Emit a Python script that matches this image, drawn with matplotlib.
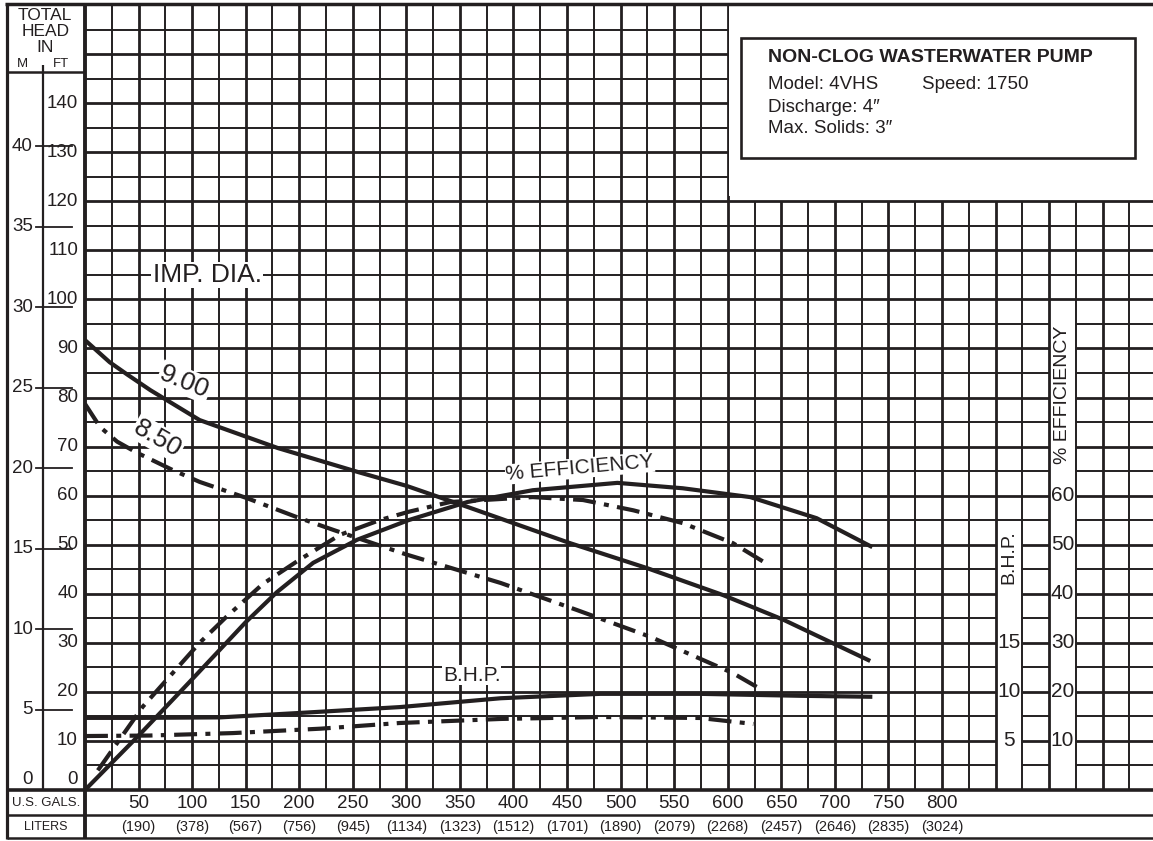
import matplotlib
matplotlib.use("Agg")
import matplotlib.pyplot as plt
import matplotlib.transforms as mtransforms
from matplotlib.lines import Line2D
from matplotlib.patches import Rectangle

W, H = 1153, 841
INK = '#231f20'

# head curves (ft) against flow (US gal/min)
gal_900 = [0, 23, 40, 61, 107, 180, 255, 300, 357, 453, 525, 596, 652, 733]
head_900 = [91.7, 87.2, 84.6, 81.5, 75.4, 69.7, 64.8, 62.0, 57.7, 50.3, 45.2, 39.7, 34.7, 26.3]
gal_850 = [0, 14, 30, 48, 82, 107, 151, 198, 232, 300, 388, 459, 528, 605, 632]
head_850 = [78.7, 74.0, 71.0, 68.8, 65.2, 62.8, 59.5, 55.6, 53.0, 48.0, 42.2, 36.7, 31.2, 23.8, 20.4]

# efficiency (%)
eff_gal_900 = [0, 51, 101, 150, 179, 213, 254, 302, 357, 418, 497, 558, 621, 683, 735]
eff_900 = [0, 11.3, 22.8, 34.2, 40.3, 46.3, 51.0, 55.0, 58.7, 61.1, 62.6, 61.5, 59.7, 55.4, 49.5]
eff_gal_850 = [12, 54, 107, 132, 166, 200, 238, 275, 302, 341, 418, 465, 512, 558, 605, 638]
eff_850 = [4, 17, 30, 35.3, 42, 46.9, 52, 55, 56.7, 58.7, 59.7, 59.1, 57, 54.4, 50.3, 45.9]

# brake horsepower
bhp_gal_900 = [0, 50, 126, 200, 294, 388, 481, 574, 668, 735]
bhp_900 = [7.35, 7.35, 7.4, 7.85, 8.45, 9.35, 9.8, 9.8, 9.6, 9.5]
bhp_gal_850 = [0, 60, 138, 220, 294, 388, 481, 574, 624]
bhp_850 = [5.5, 5.55, 5.8, 6.25, 6.83, 7.24, 7.44, 7.34, 6.73]

gal_ticks = [50, 100, 150, 200, 250, 300, 350, 400, 450, 500, 550, 600, 650, 700, 750, 800]
liter_labels = ['(190)', '(378)', '(567)', '(756)', '(945)', '(1134)', '(1323)', '(1512)',
                '(1701)', '(1890)', '(2079)', '(2268)', '(2457)', '(2646)', '(2835)', '(3024)']
ft_ticks = [0, 10, 20, 30, 40, 50, 60, 70, 80, 90, 100, 110, 120, 130, 140]
m_ticks = [0, 5, 10, 15, 20, 25, 30, 35, 40]
bhp_ticks = [5, 10, 15]
eff_ticks = [10, 20, 30, 40, 50, 60]

plt.rcParams['font.family'] = ['Liberation Sans', 'DejaVu Sans']

fig = plt.figure(figsize=(W / 100, H / 100), dpi=100)
ax = fig.add_axes([85 / W, (H - 790) / H, (W - 85) / W, (790 - 5) / H])
ax.set_xlim(0, 997)
ax.set_ylim(0, 160)
ax.axis('off')


def px(x):
    return x / W


def py(y):
    return 1 - y / H


def fline(x0, y0, x1, y1, lw):
    fig.add_artist(Line2D([px(x0), px(x1)], [py(y0), py(y1)], transform=fig.transFigure,
                          color=INK, lw=lw, solid_capstyle='butt'))


# ---- grid ----
for g in range(25, 1000, 25):
    top = 120 if g > 600 else 160
    ax.plot([g, g], [0, top], color=INK, lw=2.0 if g % 50 == 0 else 1.4,
            solid_capstyle='butt', zorder=1)


def cut(spans, a, b):
    out = []
    for s, e in spans:
        if e <= a or s >= b:
            out.append((s, e))
        else:
            if s < a:
                out.append((s, a))
            if e > b:
                out.append((b, e))
    return out


for f in range(5, 160, 5):
    spans = [(0, 600 if f > 120 else 997)]
    if f < 53:
        spans = cut(spans, 850, 875)   # B.H.P. scale strip
    if f < 96:
        spans = cut(spans, 900, 925)   # efficiency scale strip
    for s, e in spans:
        ax.plot([s, e], [f, f], color=INK, lw=2.0 if f % 10 == 0 else 1.4,
                solid_capstyle='butt', zorder=1)

# ---- frame ----
fline(7, 3, 7, 839, 2.3)
fline(5, 4, 1153, 4, 2.5)
fline(7, 72, 85, 72, 1.8)
fline(43, 65, 43, 790, 1.6)
fline(85, 4, 85, 839, 2.8)
fline(7, 790, 1153, 790, 2.6)
fline(7, 815, 1153, 815, 1.8)
fline(7, 838, 1153, 838, 1.8)

# header
for txt, x, y, size in [('TOTAL', 45, 16, 12.5), ('HEAD', 46, 32, 12.5), ('IN', 45, 47, 12.5),
                        ('M', 22, 64, 9.5), ('FT', 61, 64, 9.5)]:
    fig.text(px(x), py(y), txt, ha='center', va='center', fontsize=size, color=INK)

# left axes (M and FT)
fx_dy = mtransforms.blended_transform_factory(fig.transFigure, ax.transData)
for m in m_ticks:
    y = m * 3.28084
    if m == 0:
        ax.text(px(33), 2.1, '0', transform=fx_dy, ha='right', va='center',
                fontsize=13.5, color=INK)
        continue
    ax.plot([px(36), px(72)], [y, y], transform=fx_dy, color=INK, lw=1.3, clip_on=False)
    ax.text(px(33), y, str(m), transform=fx_dy, ha='right', va='center',
            fontsize=13.5, color=INK)
for f in ft_ticks:
    yv = 2.1 if f == 0 else f
    ax.text(px(78), yv, str(f), transform=fx_dy, ha='right', va='center',
            fontsize=13.5, color=INK)

# bottom rows
dx_fy = mtransforms.blended_transform_factory(ax.transData, fig.transFigure)
fig.text(px(46), py(803), 'U.S. GALS.', ha='center', va='center', fontsize=9.5, color=INK)
fig.text(px(46), py(827), 'LITERS', ha='center', va='center', fontsize=9, color=INK)
for g, lt in zip(gal_ticks, liter_labels):
    ax.text(g, py(804), str(g), transform=dx_fy, ha='center', va='center',
            fontsize=13.5, color=INK)
    ax.text(g, py(827), lt, transform=dx_fy, ha='center', va='center',
            fontsize=10.5, color=INK)

# right-hand scales in white strips
for b in bhp_ticks:
    ax.text(862.5, 2 * b, str(b), ha='center', va='center', fontsize=15, color=INK, zorder=3)
for e in eff_ticks:
    ax.text(912.5, e, str(e), ha='center', va='center', fontsize=15, color=INK, zorder=3)
ax.text(862.5, 47.5, 'B.H.P.', rotation=90, ha='center', va='center', fontsize=14,
        color=INK, zorder=3)
ax.text(912.5, 80.5, '% EFFICIENCY', rotation=90, ha='center', va='center', fontsize=14,
        color=INK, zorder=3)

# info box area
ax.add_patch(Rectangle((601.2, 121.0), 400, 40, fc='white', ec='none', zorder=2))
ax.add_patch(Rectangle((612.5, 128.8), 367.5, 24.5, fc='white', ec=INK, lw=1.9, zorder=3))
ax.text(637.7, 149.2, 'NON-CLOG WASTERWATER PUMP', fontsize=14, fontweight='bold',
        va='center', color=INK, zorder=4)
ax.text(637.7, 143.7, 'Model: 4VHS', fontsize=13.5, va='center', color=INK, zorder=4)
ax.text(781.5, 143.7, 'Speed: 1750', fontsize=13.5, va='center', color=INK, zorder=4)
ax.text(637.7, 139.2, 'Discharge: 4\u2033', fontsize=13.5, va='center', color=INK, zorder=4)
ax.text(637.7, 134.9, 'Max. Solids: 3\u2033', fontsize=13.5, va='center', color=INK, zorder=4)

# ---- curves ----
dashdot = (0, (5.5, 2.0, 1.2, 2.0))
kw = dict(color=INK, lw=3.0, zorder=4, solid_capstyle='butt', dash_capstyle='butt',
          solid_joinstyle='round')
ax.plot(gal_900, head_900, '-', **kw)
ax.plot(gal_850, head_850, linestyle=dashdot, **kw)
ax.plot(eff_gal_900, eff_900, '-', **kw)
ax.plot(eff_gal_850, eff_850, linestyle=dashdot, **kw)
ax.plot(bhp_gal_900, [2 * b for b in bhp_900], '-', **kw)
ax.plot(bhp_gal_850, [2 * b for b in bhp_850], linestyle=dashdot, **kw)

# curve labels
box = dict(fc='white', ec='none', pad=1.0)
ax.text(114, 105, 'IMP. DIA.', fontsize=19, ha='center', va='center', color=INK,
        zorder=3, bbox=box)
ax.text(93, 83.2, '9.00', fontsize=19, rotation=-22, ha='center', va='center', color=INK,
        zorder=3, bbox=box)
ax.text(68, 71.7, '8.50', fontsize=19, rotation=-30, ha='center', va='center', color=INK,
        zorder=3, bbox=box)
ax.text(462, 65.6, '% EFFICIENCY', fontsize=15, rotation=5, ha='center', va='center',
        color=INK, zorder=3, bbox=dict(fc='white', ec='none', pad=0.5))
ax.text(361, 23.4, 'B.H.P.', fontsize=15, ha='center', va='center', color=INK, zorder=3,
        bbox=dict(fc='white', ec='none', pad=0.5))

fig.savefig('out.png', dpi=100, facecolor='white')
